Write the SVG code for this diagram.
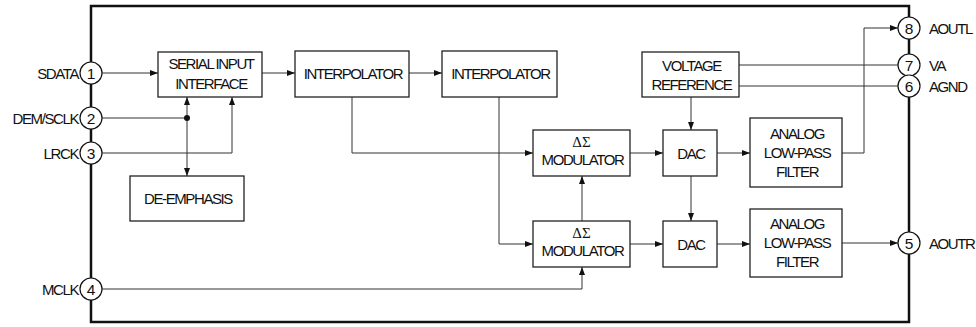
<svg xmlns="http://www.w3.org/2000/svg" width="976" height="327" viewBox="0 0 976 327">
<style>
.box{fill:#fff;stroke:#222;stroke-width:1.3}
.pin{fill:#fff;stroke:#111;stroke-width:1.2}
.t{font-family:"Liberation Sans",Arial,sans-serif;font-size:15px;letter-spacing:-1.4px;fill:#111;text-anchor:middle}
.n{font-family:"Liberation Sans",Arial,sans-serif;font-size:15.5px;fill:#111;text-anchor:middle}
.l{font-family:"Liberation Sans",Arial,sans-serif;font-size:15px;letter-spacing:-1.4px;fill:#111}
.g{font-family:"Liberation Serif","Times New Roman",serif;font-size:15px;fill:#111;text-anchor:middle}
.c{fill:none;stroke:#333;stroke-width:1}
.a{marker-end:url(#ah)}
</style>
<defs>
<marker id="ah" markerUnits="userSpaceOnUse" markerWidth="8" markerHeight="6" refX="8" refY="3" orient="auto">
<path d="M0,0 L8,3 L0,6 z" fill="#111"/>
</marker>
</defs>
<rect x="91" y="6" width="818" height="316" fill="none" stroke="#111" stroke-width="2.5"/>
<g id="connectors">
<path class="c a" d="M102,73 H158"/>
<path class="c a" d="M262,73 H295"/>
<path class="c a" d="M409,73 H442"/>
<path class="c a" d="M352,97 V153 H533"/>
<path class="c a" d="M499,97 V244 H533"/>
<path class="c a" d="M582,221 V176"/>
<path class="c a" d="M102,289 H582 V267"/>
<path class="c" d="M102,118 H187"/>
<path class="c a" d="M187,118 V97"/>
<path class="c a" d="M187,118 V176"/>
<circle cx="187" cy="118" r="3" fill="#111"/>
<path class="c a" d="M102,153 H232 V97"/>
<path class="c a" d="M630,153 H663"/>
<path class="c a" d="M717,153 H750"/>
<path class="c a" d="M842,153 H864 V28 H898"/>
<path class="c" d="M739,65 H898"/>
<path class="c" d="M739,86 H898"/>
<path class="c a" d="M691,97 V130"/>
<path class="c a" d="M691,176 V221"/>
<path class="c a" d="M630,244 H663"/>
<path class="c a" d="M717,244 H750"/>
<path class="c a" d="M842,243 H898"/>
</g>
<g id="pin1"><circle class="pin" cx="91" cy="73" r="11"/><text class="n" x="91" y="78.5">1</text><text class="l" x="78" y="78.5" text-anchor="end">SDATA</text></g>
<g id="pin2"><circle class="pin" cx="91" cy="118" r="11"/><text class="n" x="91" y="123.5">2</text><text class="l" x="78" y="123.5" text-anchor="end">DEM/SCLK</text></g>
<g id="pin3"><circle class="pin" cx="91" cy="153" r="11"/><text class="n" x="91" y="158.5">3</text><text class="l" x="78" y="158.5" text-anchor="end">LRCK</text></g>
<g id="pin4"><circle class="pin" cx="91" cy="289" r="11"/><text class="n" x="91" y="294.5">4</text><text class="l" x="78" y="294.5" text-anchor="end">MCLK</text></g>
<g id="pin8"><circle class="pin" cx="909" cy="28" r="11"/><text class="n" x="909" y="33.5">8</text><text class="l" x="929" y="33.5">AOUTL</text></g>
<g id="pin7"><circle class="pin" cx="909" cy="65" r="11"/><text class="n" x="909" y="70.5">7</text><text class="l" x="929" y="70.5">VA</text></g>
<g id="pin6"><circle class="pin" cx="909" cy="86" r="11"/><text class="n" x="909" y="91.5">6</text><text class="l" x="929" y="91.5">AGND</text></g>
<g id="pin5"><circle class="pin" cx="909" cy="243" r="11"/><text class="n" x="909" y="248.5">5</text><text class="l" x="929" y="248.5">AOUTR</text></g>
<g id="sif"><rect class="box" x="158" y="52" width="104" height="45"/><text class="t" x="211" y="69">SERIAL INPUT</text><text class="t" x="211" y="88.5">INTERFACE</text></g>
<g id="interp1"><rect class="box" x="295" y="51" width="114" height="46"/><text class="t" x="353" y="78.5">INTERPOLATOR</text></g>
<g id="interp2"><rect class="box" x="442" y="51" width="115" height="46"/><text class="t" x="500.5" y="78.5">INTERPOLATOR</text></g>
<g id="deemph"><rect class="box" x="130" y="176" width="114" height="45"/><text class="t" x="188" y="203.5">DE-EMPHASIS</text></g>
<g id="mod1"><rect class="box" x="533" y="130" width="97" height="46"/><text class="g" x="581.5" y="147">ΔΣ</text><text class="t" x="582.5" y="164.5">MODULATOR</text></g>
<g id="mod2"><rect class="box" x="533" y="221" width="97" height="46"/><text class="g" x="581.5" y="238">ΔΣ</text><text class="t" x="582.5" y="255.5">MODULATOR</text></g>
<g id="dac1"><rect class="box" x="663" y="130" width="54" height="46"/><text class="t" x="691" y="158.5">DAC</text></g>
<g id="dac2"><rect class="box" x="663" y="221" width="54" height="46"/><text class="t" x="691" y="249.5">DAC</text></g>
<g id="vref"><rect class="box" x="642" y="52" width="97" height="45"/><text class="t" x="691.5" y="71">VOLTAGE</text><text class="t" x="691.5" y="90">REFERENCE</text></g>
<g id="lpf1"><rect class="box" x="750" y="118" width="92" height="69"/><text class="t" x="797" y="138.5">ANALOG</text><text class="t" x="797" y="157.5">LOW-PASS</text><text class="t" x="797" y="176.5">FILTER</text></g>
<g id="lpf2"><rect class="box" x="750" y="209" width="92" height="68"/><text class="t" x="797" y="229">ANALOG</text><text class="t" x="797" y="248">LOW-PASS</text><text class="t" x="797" y="267">FILTER</text></g>
</svg>
